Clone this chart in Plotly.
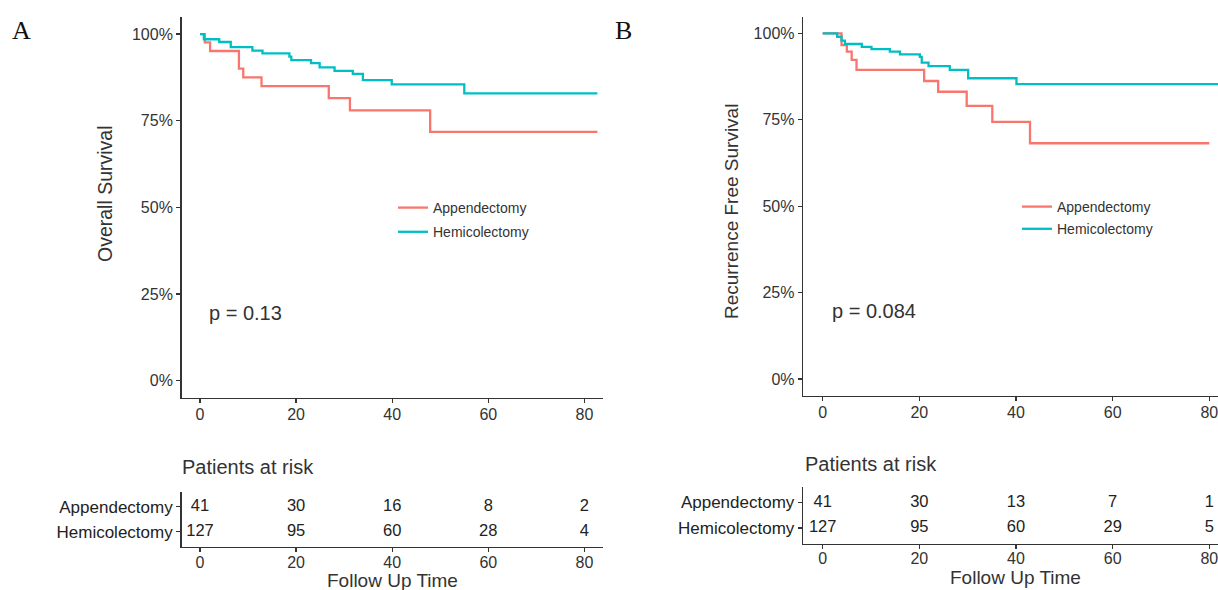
import plotly.graph_objects as go

W, H = 1218, 590

# ---------------- data ----------------
groups = ["Appendectomy", "Hemicolectomy"]
colors = {"Appendectomy": "#F8766D", "Hemicolectomy": "#00BFC4"}

# Panel A: overall survival (Kaplan-Meier step data, time in months, survival %)
os_app_t = [0, 1.0, 2.1, 8.1, 9.0, 12.8, 26.8, 31.2, 47.9, 82.7]
os_app_s = [100, 97.6, 95.1, 90.0, 87.5, 85.0, 81.5, 78.0, 71.8, 71.8]
os_hem_t = [0, 0.8, 4.0, 6.4, 10.9, 13.0, 18.6, 19.0, 23.1, 24.9, 28.0, 31.8, 33.9, 39.9, 55.0, 82.7]
os_hem_s = [100, 98.5, 97.7, 96.2, 95.2, 94.4, 93.5, 92.5, 91.6, 90.4, 89.4, 88.5, 86.7, 85.5, 82.9, 82.9]

# Panel B: recurrence free survival
rfs_app_t = [0, 3.9, 5.0, 6.0, 7.0, 21.0, 23.9, 29.8, 35.1, 42.9, 80.0]
rfs_app_s = [100, 96.6, 94.7, 92.3, 89.4, 86.2, 83.1, 79.0, 74.4, 68.2, 68.2]
rfs_hem_t = [0, 3.0, 3.9, 4.6, 8.1, 10.1, 13.9, 16.0, 20.1, 20.5, 21.9, 26.3, 30.1, 40.1, 84.0]
rfs_hem_s = [100, 99.0, 97.9, 96.9, 96.1, 95.4, 94.7, 93.9, 93.2, 91.5, 90.5, 89.4, 87.0, 85.3, 85.3]

# Risk tables
risk_times = [0, 20, 40, 60, 80]
os_risk_app = [41, 30, 16, 8, 2]
os_risk_hem = [127, 95, 60, 28, 4]
rfs_risk_app = [41, 30, 13, 7, 1]
rfs_risk_hem = [127, 95, 60, 29, 5]

p_os = "p = 0.13"
p_rfs = "p = 0.084"

y_ticks = [0, 0.25, 0.5, 0.75, 1.0]
x_ticks = [0, 20, 40, 60, 80]

# ---------------- helpers ----------------
def px(x):
    return x / W

def py(y):
    return 1 - y / H

FONT = "Liberation Sans, Arial, Helvetica, sans-serif"
TXT = "#333333"
AX = "#333333"

fig = go.Figure()

def add_curve(t, s, name, xa, ya, legend):
    fig.add_trace(go.Scatter(
        x=t, y=[v / 100 for v in s], mode="lines", line_shape="hv",
        line=dict(color=colors[name], width=2.3), name=name,
        xaxis=xa, yaxis=ya, legend=legend, legendgroup=legend + name,
        hoverinfo="skip"))

add_curve(os_app_t, os_app_s, "Appendectomy", "x", "y", "legend")
add_curve(os_hem_t, os_hem_s, "Hemicolectomy", "x", "y", "legend")
add_curve(rfs_app_t, rfs_app_s, "Appendectomy", "x3", "y3", "legend2")
add_curve(rfs_hem_t, rfs_hem_s, "Hemicolectomy", "x3", "y3", "legend2")

def add_risk(vals, name, xa, ya):
    fig.add_trace(go.Scatter(
        x=risk_times, y=[name] * len(vals), mode="text",
        text=[str(v) for v in vals], textposition="middle center",
        textfont=dict(size=16.5, color="#222222", family=FONT),
        showlegend=False, xaxis=xa, yaxis=ya, cliponaxis=False,
        hoverinfo="skip"))

add_risk(os_risk_app, "Appendectomy", "x2", "y2")
add_risk(os_risk_hem, "Hemicolectomy", "x2", "y2")
add_risk(rfs_risk_app, "Appendectomy", "x4", "y4")
add_risk(rfs_risk_hem, "Hemicolectomy", "x4", "y4")

axis_common = dict(
    showline=True, linecolor=AX, linewidth=1.6, ticks="outside",
    ticklen=4, tickwidth=1.4, tickcolor=AX, showgrid=False, zeroline=False,
    automargin=False, tickfont=dict(size=16, color=TXT, family=FONT),
    fixedrange=True, ticklabeloverflow="allow")

x_axis = dict(axis_common, ticklabelstandoff=-3)
table_x = dict(axis_common, ticklabelstandoff=-4)
table_y = dict(axis_common, tickfont=dict(size=17, color="#222222", family=FONT))

fig.update_layout(
    xaxis=dict(x_axis, domain=[px(181.7), px(603.3)], range=[-3.81, 83.93],
               tickvals=x_ticks, anchor="y"),
    yaxis=dict(axis_common, domain=[py(397.7), py(16.7)], range=[-0.049, 1.05],
               tickvals=y_ticks, tickformat=".0%", anchor="x"),
    xaxis2=dict(table_x, domain=[px(181.7), px(603.3)], range=[-3.81, 83.93],
                tickvals=x_ticks, anchor="y2"),
    yaxis2=dict(table_y, domain=[py(546.7), py(491.7)], range=[-0.6, 1.6],
                type="category", categoryorder="array",
                categoryarray=["Hemicolectomy", "Appendectomy"], anchor="x2"),
    xaxis3=dict(x_axis, domain=[px(803.3), 1.0], range=[-4.01, 81.8],
                tickvals=x_ticks, anchor="y3"),
    yaxis3=dict(axis_common, domain=[py(395.7), py(16.7)], range=[-0.048, 1.048],
                tickvals=y_ticks, tickformat=".0%", anchor="x3"),
    xaxis4=dict(table_x, domain=[px(803.3), 1.0], range=[-4.01, 81.8],
                tickvals=x_ticks, anchor="y4"),
    yaxis4=dict(table_y, domain=[py(543.5), py(487.0)], range=[-0.6, 1.6],
                type="category", categoryorder="array",
                categoryarray=["Hemicolectomy", "Appendectomy"], anchor="x4"),
)

legend_common = dict(
    xanchor="left", yanchor="top", bgcolor="rgba(0,0,0,0)",
    font=dict(size=14, color=TXT, family=FONT), traceorder="grouped",
    itemwidth=30)

fig.update_layout(
    legend=dict(legend_common, x=px(393), y=py(192), tracegroupgap=3),
    legend2=dict(legend_common, x=px(1017), y=py(191), tracegroupgap=1),
)

ann = []
def text(x, y, s, size, xanchor="center", yanchor="middle", angle=0, family=FONT, color=TXT):
    ann.append(dict(x=px(x), y=py(y), xref="paper", yref="paper", text=s,
                    showarrow=False, xanchor=xanchor, yanchor=yanchor,
                    textangle=angle, font=dict(size=size, family=family, color=color)))

text(21, 31, "A", 26, family="Liberation Serif, Times New Roman, serif", color="#111111")
text(623, 31, "B", 26, family="Liberation Serif, Times New Roman, serif", color="#111111")
text(105, 194, "Overall Survival", 19.5, angle=-90)
text(731, 212, "Recurrence Free Survival", 19, angle=-90)
text(207, 313, p_os, 20, xanchor="left")
text(830, 311, p_rfs, 20, xanchor="left")
text(180, 467, "Patients at risk", 20, xanchor="left")
text(803, 464, "Patients at risk", 20, xanchor="left")
text(392, 580.5, "Follow Up Time", 19)
text(1015, 577.5, "Follow Up Time", 19)

fig.update_layout(
    annotations=ann, width=W, height=H, autosize=False,
    margin=dict(l=0, r=0, t=0, b=0), template="none",
    paper_bgcolor="white", plot_bgcolor="white",
    font=dict(family=FONT, color=TXT), showlegend=True)

# remove the default 8px page margin so the figure fills the window exactly
fig.write_html(
    "out.html",
    config={"displayModeBar": False, "staticPlot": True},
    post_script="document.body.style.margin='0px';document.body.style.overflow='hidden';")
